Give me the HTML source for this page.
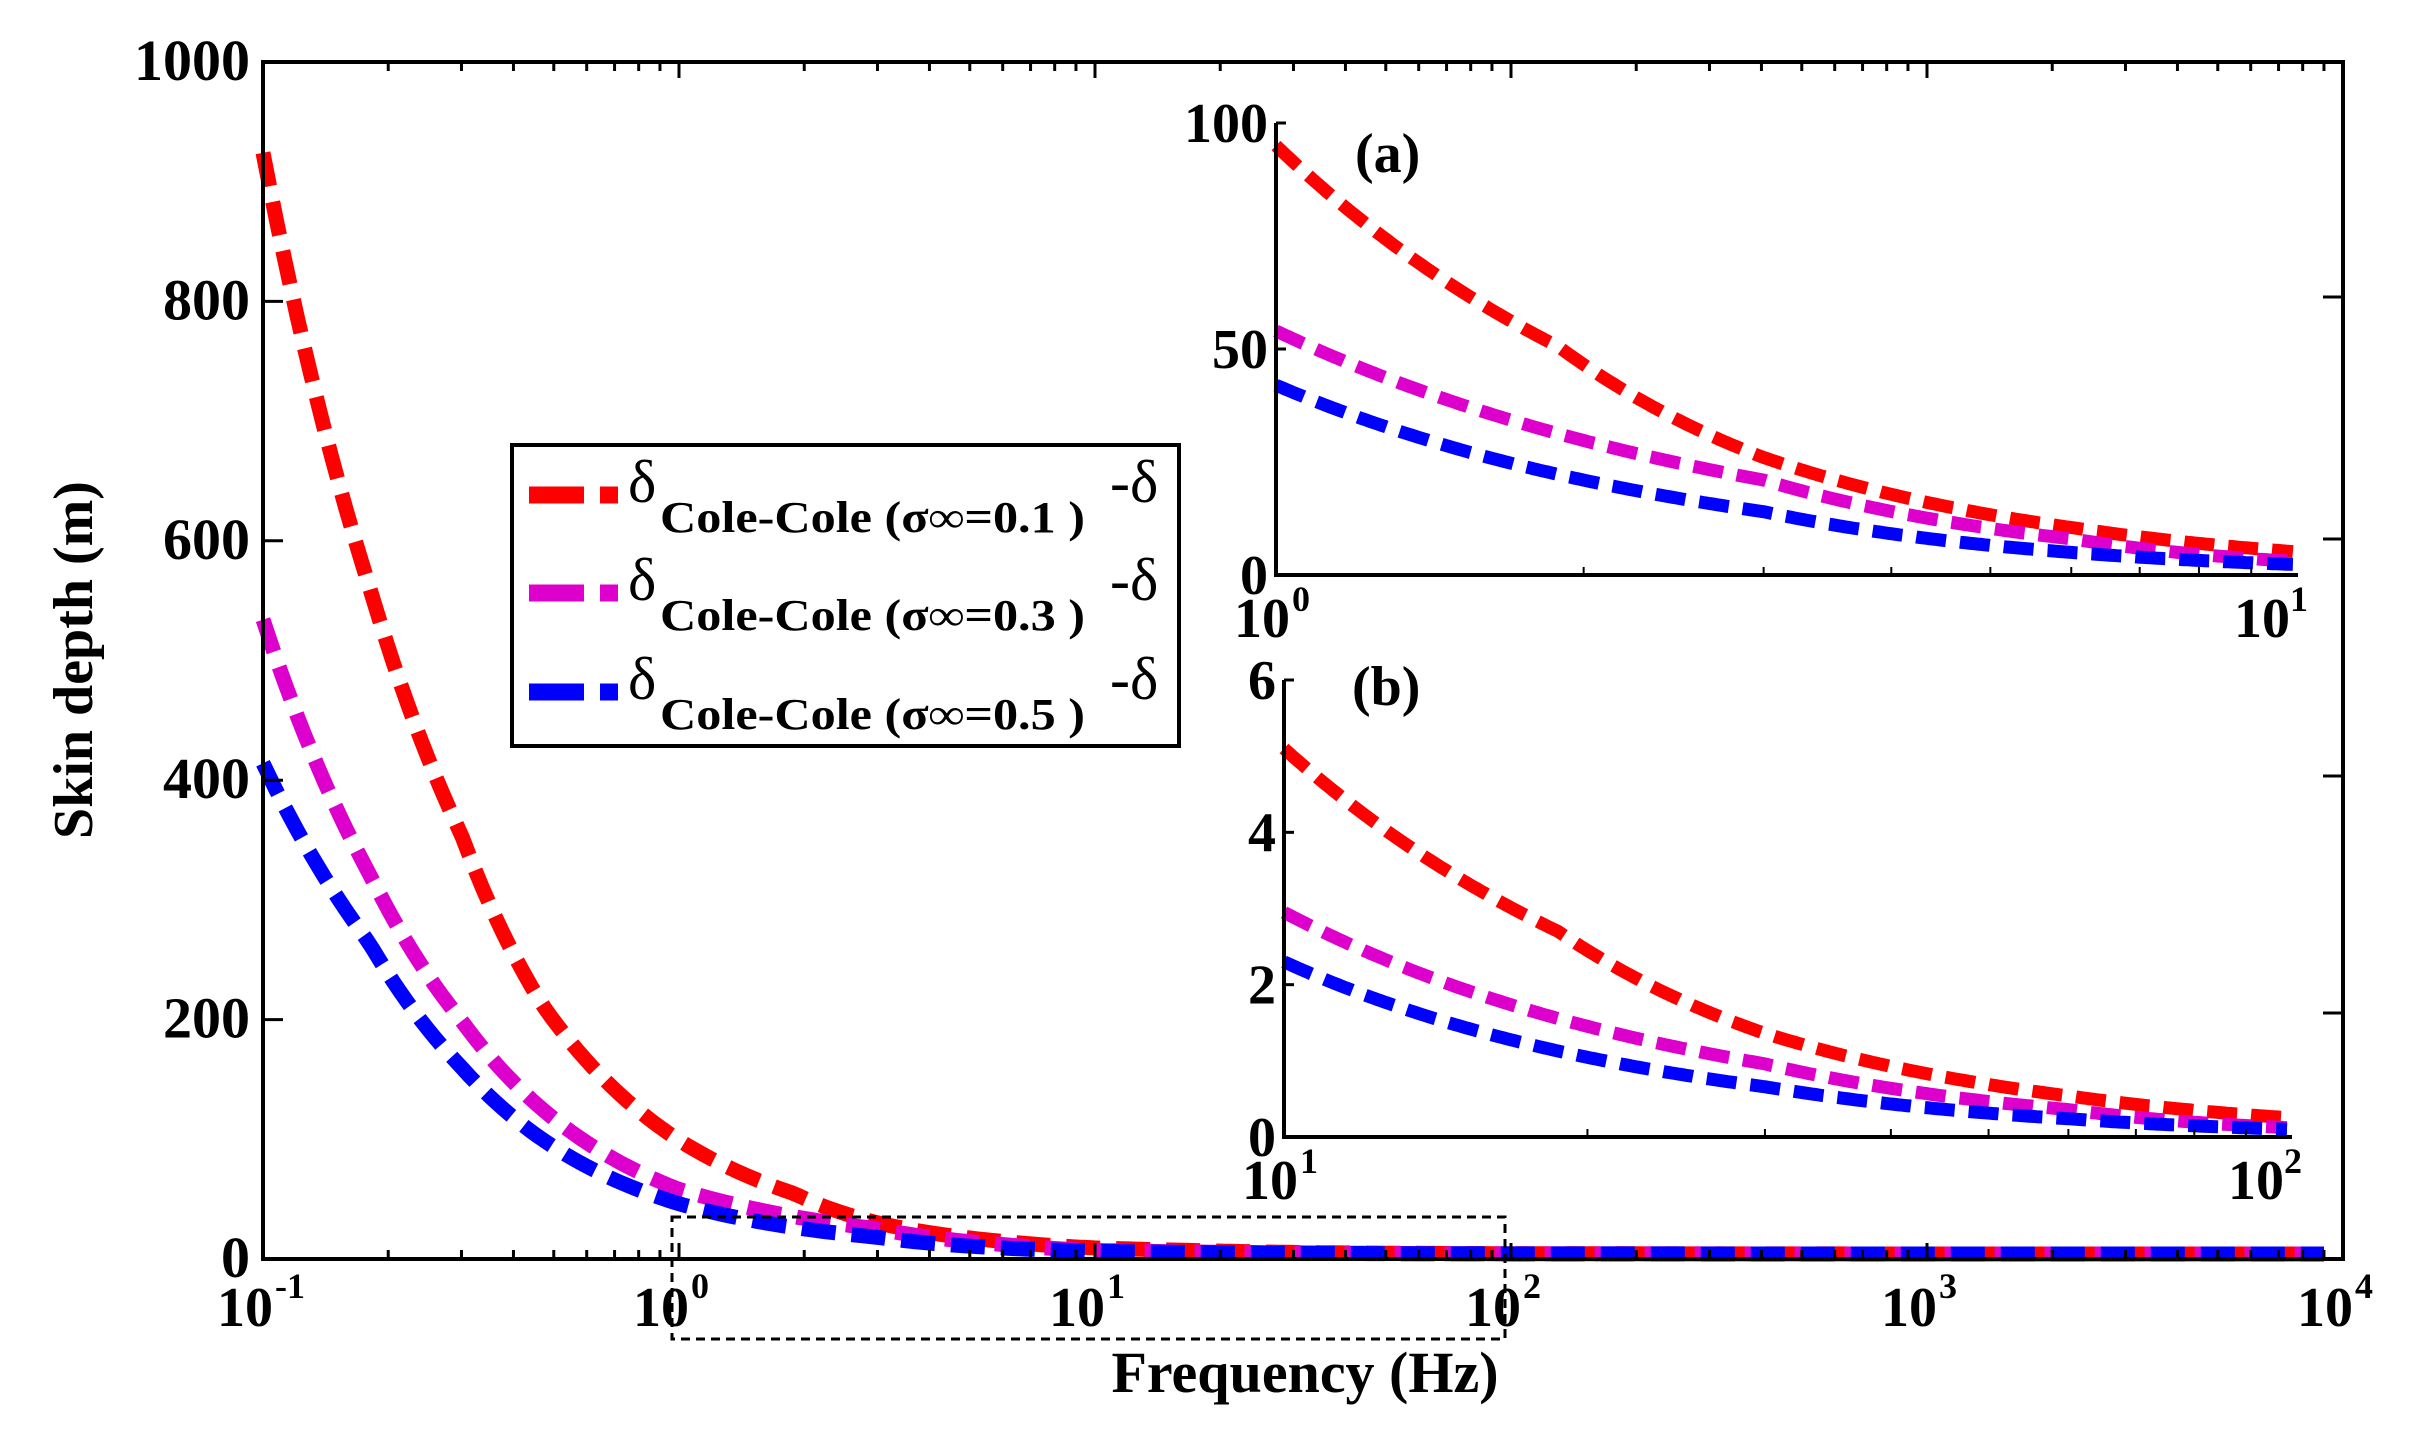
<!DOCTYPE html>
<html><head><meta charset="utf-8"><style>
html,body{margin:0;padding:0;background:#fff;}
svg{display:block;}
text{font-family:"Liberation Serif",serif;fill:#000;}
</style></head><body>
<svg id="s" width="2425" height="1429" viewBox="0 0 2425 1429" xmlns="http://www.w3.org/2000/svg">
<rect width="2425" height="1429" fill="#fff"/>
<g id="g"></g>
<!-- legend -->
<rect x="512" y="445" width="667" height="301" fill="#fff" stroke="#000" stroke-width="4"/>
<g stroke-width="17">
<line x1="529" y1="495" x2="584" y2="495" stroke="#ff0000"/><line x1="600" y1="495" x2="618" y2="495" stroke="#ff0000"/>
<line x1="529" y1="593" x2="584" y2="593" stroke="#dd00cc"/><line x1="600" y1="593" x2="618" y2="593" stroke="#dd00cc"/>
<line x1="529" y1="692" x2="584" y2="692" stroke="#0000ff"/><line x1="600" y1="692" x2="618" y2="692" stroke="#0000ff"/>
</g>
<g font-size="60">
<text x="628" y="502">δ</text><text x="628" y="600">δ</text><text x="628" y="699">δ</text>
<text x="1110" y="502">-δ</text><text x="1110" y="600">-δ</text><text x="1110" y="699">-δ</text>
</g>
<g font-size="44" font-weight="bold">
<text x="660" y="532" textLength="425" lengthAdjust="spacingAndGlyphs">Cole-Cole (σ∞=0.1 )</text>
<text x="660" y="630" textLength="425" lengthAdjust="spacingAndGlyphs">Cole-Cole (σ∞=0.3 )</text>
<text x="660" y="729" textLength="425" lengthAdjust="spacingAndGlyphs">Cole-Cole (σ∞=0.5 )</text>
</g>
<!-- labels -->
<text x="1305" y="1392" font-size="58" font-weight="bold" text-anchor="middle">Frequency (Hz)</text>
<text transform="translate(92,660) rotate(-90)" font-size="56" font-weight="bold" text-anchor="middle">Skin depth (m)</text>
<text x="1355" y="172" font-size="56" font-weight="bold">(a)</text>
<text x="1352" y="705" font-size="56" font-weight="bold">(b)</text>
</svg>
<script>
var NS="http://www.w3.org/2000/svg",G=document.getElementById("g");
function el(t,a,p){var e=document.createElementNS(NS,t);for(var k in a)e.setAttribute(k,a[k]);(p||G).appendChild(e);return e;}
function txt(x,y,s,fs,anchor,w){var e=el("text",{x:x,y:y,"font-size":fs,"font-weight":w||"bold","text-anchor":anchor||"start"});e.textContent=s;return e;}
var data={
 r:[[0.1,920],[0.18,558],[0.3,350],[0.47,208],[1,95],[1.89,50.5],[3,26],[6,10.5],[10,5.1],[18.7,2.7],[29.7,1.38],[60,0.54],[100,0.25],[10000,0.003]],
 m:[[0.1,530],[0.18,318],[0.3,195],[1,54],[3,21],[6,8],[10,2.95],[30,0.96],[60,0.36],[100,0.12],[10000,0.002]],
 b:[[0.1,410],[0.18,260],[0.3,156],[1,42],[3,14],[6,5],[10,2.3],[30,0.66],[60,0.24],[100,0.1],[10000,0.002]]};
function val(d,f){var lf=Math.log10(f);for(var i=0;i<d.length-1;i++){var a=Math.log10(d[i][0]),b=Math.log10(d[i+1][0]);if(lf<=b+1e-9){var t=(lf-a)/(b-a);return Math.pow(10,Math.log10(d[i][1])+t*(Math.log10(d[i+1][1])-Math.log10(d[i][1])));}}return d[d.length-1][1];}
var cols={r:"#ff0000",m:"#dd00cc",b:"#0000ff"};
function panel(x0,x1,y0,y1,d0,d1,ymax,sw,dash,fend,off){
 ["r","m","b"].forEach(function(k){var pts=[];var N=300;var fe=fend||d1;for(var i=0;i<=N;i++){var lf=d0+(Math.log10(fe)-d0)*i/N;var f=Math.pow(10,lf);var v=val(data[k],f);var X=x0+(lf-d0)/(d1-d0)*(x1-x0);var Y=y1-(off||0)-Math.min(v,ymax)/ymax*(y1-y0);pts.push(X.toFixed(1)+","+Y.toFixed(1));}
 el("polyline",{points:pts.join(" "),fill:"none",stroke:cols[k],"stroke-width":sw,"stroke-dasharray":dash});});
}
var MX0=263,MX1=2343,MY0=62,MY1=1259;
panel(MX0,MX1,MY0,MY1,-1,4,1000,15,"34 16",9000,5);
el("rect",{x:MX0,y:MY0,width:MX1-MX0,height:MY1-MY0,fill:"none",stroke:"#000","stroke-width":4});
for(var dd=-1;dd<4;dd++)for(var m=1;m<10;m++){var X=MX0+(dd+1+Math.log10(m))/5*(MX1-MX0);var L=m==1?16:9;el("line",{x1:X,y1:MY1,x2:X,y2:MY1-L,stroke:"#000","stroke-width":3});el("line",{x1:X,y1:MY0,x2:X,y2:MY0+L,stroke:"#000","stroke-width":3});}
for(var v=0;v<=1000;v+=200){var Y=MY1-v/1000*(MY1-MY0);el("line",{x1:MX0,y1:Y,x2:MX0+20,y2:Y,stroke:"#000","stroke-width":3});txt(250,Y+18,String(v),58,"end");}
[297,539,776,1013].forEach(function(Y){el("line",{x1:MX1,y1:Y,x2:MX1-20,y2:Y,stroke:"#000","stroke-width":3});});
var ex=["-1","0","1","2","3","4"];
for(var i=0;i<6;i++){var X=MX0+i/5*(MX1-MX0);txt(X-46,1326,"10",56,"start");var s=el("text",{x:X+12,y:1298,"font-size":36,"font-weight":"bold"});s.textContent=ex[i];}
el("rect",{x:672,y:1217,width:833,height:122,fill:"none",stroke:"#000","stroke-width":3,"stroke-dasharray":"9 6"});
function inset(x0,x1,y0,y1,d0,ymax,ticks,e0,e1){
 el("rect",{x:x0,y:y0-4,width:x1-x0+10,height:y1-y0+4,fill:"#fff"});
 panel(x0,x1,y0,y1,d0,d0+1,ymax,13,"30 14",Math.pow(10,d0+0.995));
 el("polyline",{points:x0+","+y0+" "+x0+","+y1+" "+x1+","+y1,fill:"none",stroke:"#000","stroke-width":4});
 ticks.forEach(function(v){var Y=y1-v/ymax*(y1-y0);el("line",{x1:x0,y1:Y,x2:x0+10,y2:Y,stroke:"#000","stroke-width":3});txt(x0-8,Y+19,String(v),56,"end");});
 for(var m=2;m<10;m++){var X=x0+Math.log10(m)*(x1-x0);el("line",{x1:X,y1:y1,x2:X,y2:y1-8,stroke:"#000","stroke-width":2});}
 txt(x0-42,y1+62,"10",56);var s=el("text",{x:x0+16,y:y1+36,"font-size":36,"font-weight":"bold"});s.textContent=e0;
 txt(x1-64,y1+62,"10",56);s=el("text",{x:x1-8,y:y1+36,"font-size":36,"font-weight":"bold"});s.textContent=e1;
}
inset(1276,2298,123,575,0,100,[0,50,100],"0","1");
inset(1284,2292,680,1137,1,6,[0,2,4,6],"1","2");
</script>
</body></html>
